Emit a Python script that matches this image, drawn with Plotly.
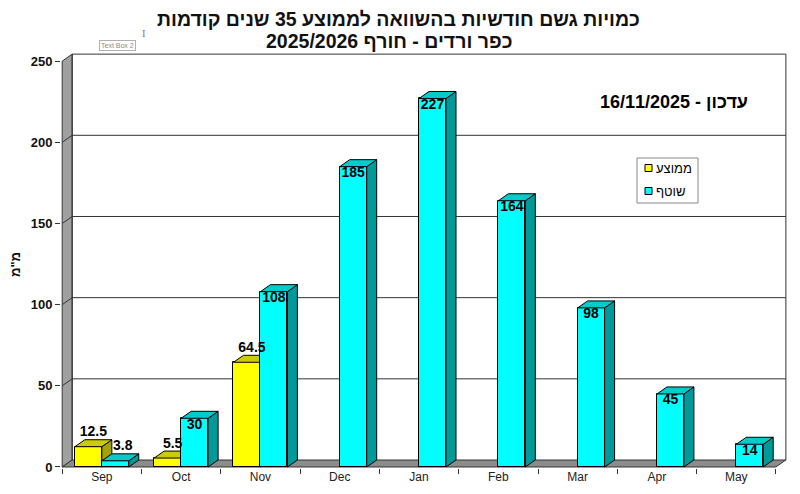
import plotly.graph_objects as go

# data
months = ["Sep", "Oct", "Nov", "Dec", "Jan", "Feb", "Mar", "Apr", "May"]
avg_mm = [12.5, 5.5, 64.5, None, None, None, None, None, None]   # ממוצע (yellow)
cur_mm = [3.8, 30, 108, 185, 227, 164, 98, 45, 14]                # שוטף (cyan)
y_ticks = [0, 50, 100, 150, 200, 250]

series_names = ["ממוצע", "שוטף"]
title_lines = ["כמויות גשם חודשיות בהשוואה לממוצע 35 שנים קודמות",
               "כפר ורדים - חורף 2025/2026"]
update_text = "עדכון - 16/11/2025"
y_title = 'מ"מ'

# fake 3D depth (data units) and bar width
DX = 0.126
DY = 4.3
BAR_W = 0.34

# the page body keeps its default 8px margin, so the figure is 16px smaller
PAGE = 8
W, H = 800 - 2 * PAGE, 494 - 2 * PAGE
L, T, B = 53, 45, 18
PW = 726
PH = H - T - B
R = W - L - PW
X_RANGE = [-0.515, 8.64]
Y_RANGE = [-0.62, 255]

FONT = "Liberation Sans, Arial, sans-serif"
LINE = "#333333"

xs = list(range(len(months)))
x_lo, x_hi = -0.5, len(months) - 0.5
y_top = y_ticks[-1]


def px_x(p):
    # window pixel -> paper x
    return (p - PAGE - L) / PW


def px_y(p):
    # window pixel -> paper y
    return (H - B - (p - PAGE)) / PH


def faces(vals, off):
    """top and side parallelograms of every bar, separated by None"""
    tx, ty, sx, sy = [], [], [], []
    for c, v in zip(xs, vals):
        if v is None:
            continue
        x0 = c + off
        x1 = x0 + BAR_W
        tx += [x0, x1, x1 + DX, x0 + DX, x0, None]
        ty += [v, v, v + DY, v + DY, v, None]
        sx += [x1, x1 + DX, x1 + DX, x1, x1, None]
        sy += [0, DY, v + DY, v, 0, None]
    return tx, ty, sx, sy


def face_trace(x, y, color, yaxis):
    return go.Scatter(x=x, y=y, mode="lines", fill="toself", fillcolor=color,
                      line=dict(color="black", width=1), yaxis=yaxis,
                      hoverinfo="skip", showlegend=False)


fig = go.Figure()

# yellow series on the base subplot
fig.add_trace(go.Bar(x=xs, y=avg_mm, offset=-BAR_W, width=BAR_W, name=series_names[0],
                     marker=dict(color="#FFFF00", line=dict(color="black", width=1)),
                     showlegend=False))
tx, ty, sx, sy = faces(avg_mm, -BAR_W)
fig.add_trace(face_trace(sx, sy, "#A3A300", "y"))
fig.add_trace(face_trace(tx, ty, "#CCCC00", "y"))

# cyan series on an overlaid subplot so it hides the yellow faces behind it
fig.add_trace(go.Bar(x=xs, y=cur_mm, offset=0, width=BAR_W, name=series_names[1], yaxis="y2",
                     marker=dict(color="#00FFFF", line=dict(color="black", width=1)),
                     showlegend=False))
tx, ty, sx, sy = faces(cur_mm, 0)
fig.add_trace(face_trace(sx, sy, "#009999", "y2"))
fig.add_trace(face_trace(tx, ty, "#00CCCC", "y2"))

# value labels
lab_font = dict(family=FONT, size=14, color="black", weight="bold")
ya = [(c - BAR_W / 2 + DX / 2, v + DY, f"{v:g}") for c, v in zip(xs, avg_mm) if v is not None]
fig.add_trace(go.Scatter(x=[a[0] for a in ya], y=[a[1] for a in ya], text=[a[2] for a in ya],
                         mode="text", textposition="top center", textfont=lab_font,
                         yaxis="y2", cliponaxis=False, hoverinfo="skip", showlegend=False))
cx, cy, cp = [], [], []
for c, v in zip(xs, cur_mm):
    if v > 10:
        # tall enough: label sits inside the bar, under its top
        cx.append(c + BAR_W / 2)
        cy.append(v)
        cp.append("bottom center")
    else:
        cx.append(c + BAR_W / 2 + DX / 2 + 0.03)
        cy.append(v + DY)
        cp.append("top center")
fig.add_trace(go.Scatter(x=cx, y=cy, text=[f"{v:g}" for v in cur_mm], mode="text",
                         textposition=cp, textfont=lab_font, yaxis="y2", cliponaxis=False,
                         hoverinfo="skip", showlegend=False))

# walls, floor and gridlines of the 3D box
shapes = []
shapes.append(dict(type="path", xref="x", yref="y", layer="below",
                   path=f"M {x_lo},0 L {x_lo},{y_top} L {x_lo + DX},{y_top + DY} L {x_lo + DX},{DY} Z",
                   fillcolor="#A0A0A0", line=dict(color=LINE, width=1)))
shapes.append(dict(type="path", xref="x", yref="y", layer="below",
                   path=f"M {x_lo},0 L {x_hi},0 L {x_hi + DX},{DY} L {x_lo + DX},{DY} Z",
                   fillcolor="#8C8C8C", line=dict(color=LINE, width=1)))
shapes.append(dict(type="path", xref="x", yref="y", layer="below",
                   path=f"M {x_lo + DX},{DY} L {x_lo + DX},{y_top + DY} L {x_hi + DX},{y_top + DY} L {x_hi + DX},{DY}",
                   line=dict(color=LINE, width=1)))
for v in y_ticks[1:-1]:
    shapes.append(dict(type="path", xref="x", yref="y", layer="below",
                       path=f"M {x_lo},{v} L {x_lo + DX},{v + DY} L {x_hi + DX},{v + DY}",
                       line=dict(color=LINE, width=1)))

# legend box drawn like the original (swatch left of the Hebrew text)
shapes.append(dict(type="rect", xref="paper", yref="paper",
                   x0=px_x(637), x1=px_x(698), y0=px_y(203), y1=px_y(158),
                   fillcolor="white", line=dict(color="#888888", width=1)))
annotations = []
for name, color, yc in [(series_names[0], "#FFFF00", 168), (series_names[1], "#00FFFF", 191)]:
    shapes.append(dict(type="rect", xref="paper", yref="paper",
                       x0=px_x(645), x1=px_x(652), y0=px_y(yc + 3.5), y1=px_y(yc - 3.5),
                       fillcolor=color, line=dict(color="black", width=1)))
    annotations.append(dict(text=name, xref="paper", yref="paper", x=px_x(654), y=px_y(yc),
                            xanchor="left", yanchor="middle", showarrow=False,
                            font=dict(family=FONT, size=13, color="black")))

# two-line title
for line, xc, yc in [(title_lines[0], 398, 19), (title_lines[1], 389, 41)]:
    annotations.append(dict(text=line, xref="paper", yref="paper", x=px_x(xc), y=px_y(yc),
                            xanchor="center", yanchor="middle", showarrow=False, borderpad=0,
                            font=dict(family=FONT, size=19.5, color="#111111", weight="bold")))

annotations.append(dict(text=update_text, xref="paper", yref="paper", x=px_x(674), y=px_y(102),
                        xanchor="center", yanchor="middle", showarrow=False,
                        font=dict(family=FONT, size=18, color="black", weight="bold")))
annotations.append(dict(text=y_title, xref="paper", yref="paper", x=px_x(15), y=px_y(265),
                        xanchor="center", yanchor="middle", showarrow=False, textangle=-90,
                        font=dict(family=FONT, size=13, color="#111111", weight="bold")))
# stray Excel "Text Box 2" tag left in the screenshot
annotations.append(dict(text="Text Box 2", xref="paper", yref="paper", x=px_x(117.5), y=px_y(45.5),
                        xanchor="center", yanchor="middle", showarrow=False,
                        bgcolor="white", bordercolor="#B0B0B0", borderwidth=1, borderpad=1,
                        font=dict(family=FONT, size=7, color="#8A8A8A")))
annotations.append(dict(text="I", xref="paper", yref="paper", x=px_x(144), y=px_y(34),
                        xanchor="center", yanchor="middle", showarrow=False,
                        font=dict(family="DejaVu Serif", size=9, color="#777777")))

fig.update_layout(
    width=W, height=H,
    margin=dict(l=L, r=R, t=T, b=B),
    paper_bgcolor="white", plot_bgcolor="white",
    xaxis=dict(range=X_RANGE, tickvals=xs, ticktext=months, ticks="", automargin=False,
               showgrid=False, zeroline=False, showline=False,
               tickfont=dict(family=FONT, size=12, color="#222222"),
               minor=dict(tickmode="array", tickvals=[c - 0.5 for c in xs] + [x_hi],
                          ticks="outside", ticklen=5, tickcolor=LINE, showgrid=False)),
    yaxis=dict(range=Y_RANGE, tickvals=y_ticks, ticks="outside", ticklen=5, tickcolor=LINE,
               showgrid=False, zeroline=False, showline=False, automargin=False,
               tickfont=dict(family=FONT, size=13, color="#111111", weight="bold")),
    yaxis2=dict(range=Y_RANGE, overlaying="y", anchor="x", visible=False),
    shapes=shapes,
    annotations=annotations,
    showlegend=False,
    bargap=0,
)

fig.write_html("out.html")
